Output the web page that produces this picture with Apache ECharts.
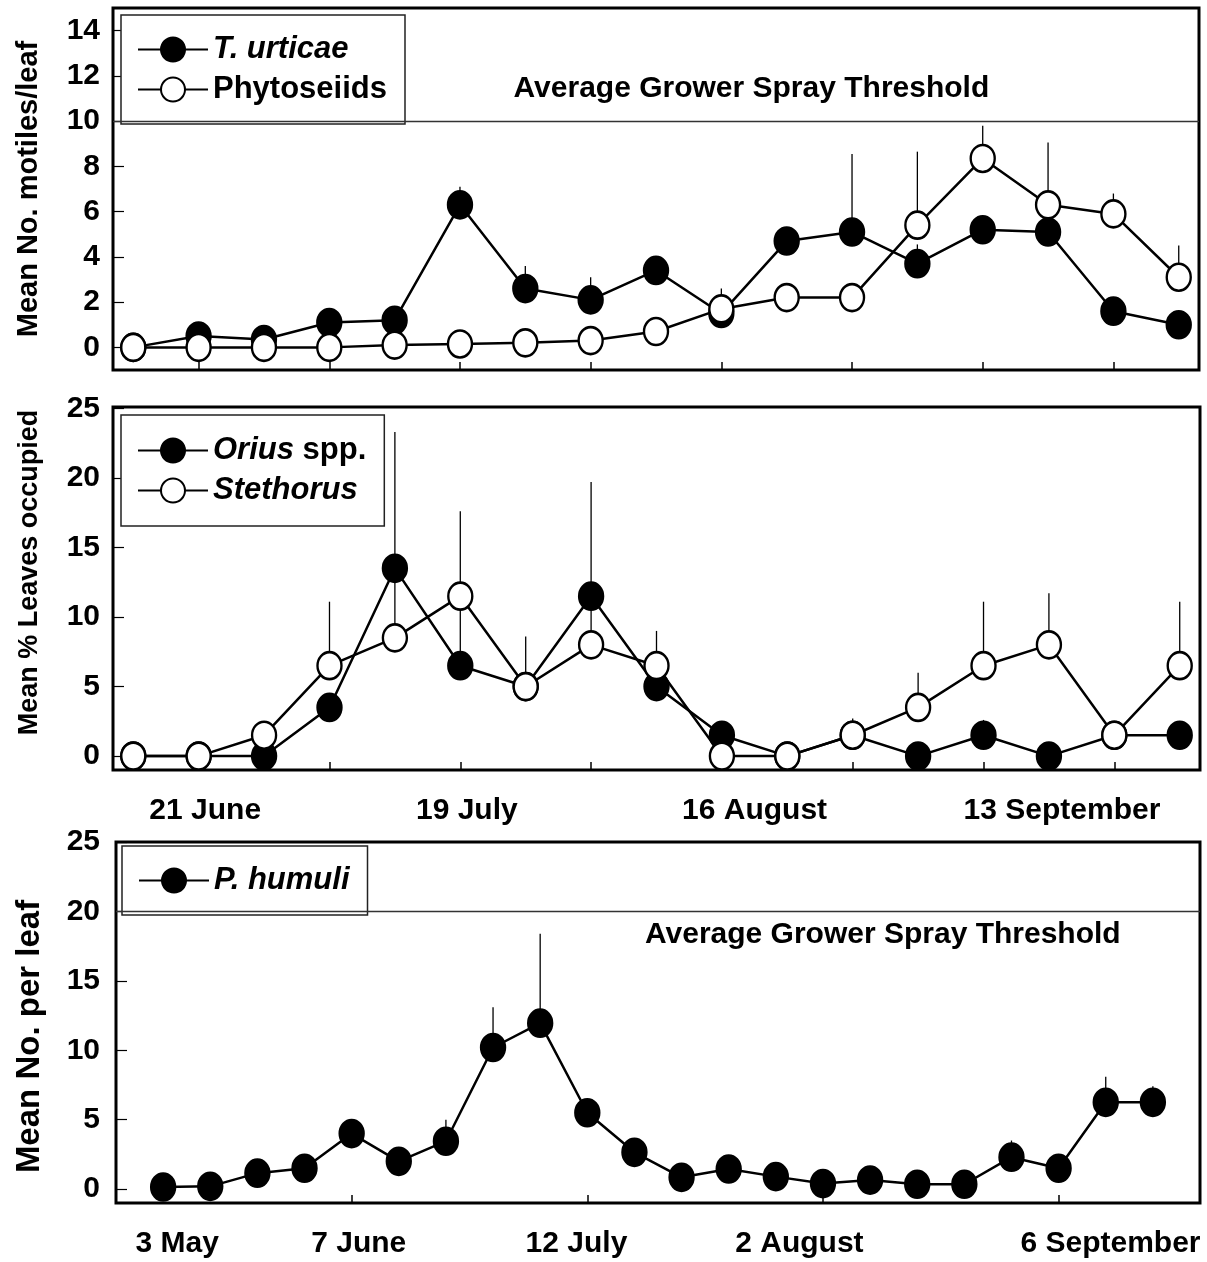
<!DOCTYPE html>
<html>
<head>
<meta charset="utf-8">
<script src="https://cdn.jsdelivr.net/npm/echarts@6/dist/echarts.min.js"></script>
<style>
  html, body { margin: 0; padding: 0; background: #fff; }
  #main { width: 1207px; height: 1262px; }
</style>
</head>
<body>
<div id="main"></div>
<script>
// 数据：每周采样
var tUrticae   = [0, 0.5, 0.35, 1.1, 1.2, 6.3, 2.6, 2.1, 3.4, 1.5, 4.7, 5.1, 3.7, 5.2, 5.1, 1.6, 1.0];
var tUrticaeSE = [0, 0, 0, 0, 0, 0.8, 1.0, 1.0, 0, 1.1, 0, 3.45, 0.85, 0, 0, 0, 0];
var phyto      = [0, 0, 0, 0, 0.1, 0.15, 0.2, 0.3, 0.7, 1.7, 2.2, 2.2, 5.4, 8.35, 6.3, 5.9, 3.1];
var phytoSE    = [0, 0, 0, 0, 0, 0, 0, 0, 0, 0, 0.55, 0, 3.25, 1.45, 2.75, 0.9, 1.4];

var orius      = [0, 0, 0, 3.5, 13.5, 6.5, 5.0, 11.5, 5.0, 1.5, 0, 1.5, 0, 1.5, 0, 1.5, 1.5];
var oriusSE    = [0, 0, 0, 0, 9.8, 5.5, 0, 8.2, 0, 1.0, 0, 0, 0, 1.1, 0, 0, 1.0];
var stethorus  = [0, 0, 1.5, 6.5, 8.5, 11.5, 5.0, 8.0, 6.5, 0, 0, 1.5, 3.5, 6.5, 8.0, 1.5, 6.5];
var stethSE    = [0, 0, 1.0, 4.6, 5.5, 6.1, 3.6, 4.0, 2.5, 0, 0, 1.2, 2.5, 4.6, 3.7, 0.8, 4.6];

var humuli     = [0.15, 0.2, 1.15, 1.5, 4.0, 2.0, 3.45, 10.2, 11.95, 5.5, 2.65, 0.85, 1.45, 0.9, 0.4, 0.65, 0.35, 0.35, 2.3, 1.5, 6.25, 6.25];
var humuliSE   = [0, 0, 0, 0, 0, 0, 1.55, 2.9, 6.45, 0, 0, 0, 0, 0, 0, 0, 0, 0, 1.2, 0, 1.85, 1.15];

// 坐标轴刻度与标签
var mitesTicks = [1, 3, 5, 7, 9, 11, 13, 15];
var mitesLabelPos = [1.1, 5.1, 9.5, 14.2];
var mitesLabels = ['21 June', '19 July', '16 August', '13 September'];
var aphidTicks = [4, 9, 14, 19];
var aphidLabelPos = [0.3, 4.15, 8.77, 13.5, 20.1];
var aphidLabels = ['3 May', '7 June', '12 July', '2 August', '6 September'];
var yTicks1 = [0, 2, 4, 6, 8, 10, 12, 14];
var yTicks25 = [0, 5, 10, 15, 20, 25];

var thresholdText = 'Average Grower Spray Threshold';

function pairs(arr) { return arr.map(function (v, i) { return [i, v]; }); }
function triples(arr, se) { return arr.map(function (v, i) { return [i, v, se[i]]; }); }

var FONT = 'Liberation Sans';

function errBars(arr, se, idx) {
  return {
    type: 'custom',
    xAxisIndex: idx, yAxisIndex: idx,
    z: 1,
    silent: true,
    encode: { x: 0, y: 1 },
    data: triples(arr, se),
    renderItem: function (params, api) {
      var x = api.value(0), y = api.value(1), e = api.value(2);
      if (!e) return;
      var p0 = api.coord([x, y]);
      var p1 = api.coord([x, y + e]);
      return {
        type: 'line',
        shape: { x1: p0[0], y1: p0[1], x2: p1[0], y2: p1[1] },
        style: { stroke: '#000', lineWidth: 1.3 }
      };
    }
  };
}

function lineSeries(name, arr, idx, filled) {
  return {
    name: name,
    type: 'line',
    xAxisIndex: idx, yAxisIndex: idx,
    data: pairs(arr),
    symbol: 'circle',
    symbolSize: [24, 27],
    showAllSymbol: true,
    z: 3,
    lineStyle: { color: '#000', width: 2.5 },
    itemStyle: { color: filled ? '#000' : '#fff', borderColor: '#000', borderWidth: 2.5, opacity: 1 },
    emphasis: { disabled: true }
  };
}

function xAxis(idx, min, max, ticks, labelPos, labels, showLabels) {
  return {
    type: 'value', gridIndex: idx, min: min, max: max,
    axisLine: { show: false, onZero: false },
    axisTick: { show: true, inside: true, length: 8, customValues: ticks, lineStyle: { color: '#000', width: 1.5 } },
    axisLabel: {
      show: showLabels, customValues: labelPos, margin: 26,
      fontSize: 30, fontWeight: 'bold', color: '#000', fontFamily: FONT,
      formatter: function (v) {
        var k = labelPos.indexOf(v);
        return k >= 0 ? labels[k] : '';
      }
    },
    splitLine: { show: false }
  };
}

function yAxis(idx, min, max, ticks, name, size, gap, pad, margin) {
  return {
    type: 'value', gridIndex: idx, min: min, max: max,
    name: name, nameLocation: 'middle', nameGap: gap, nameRotate: 90,
    nameTextStyle: { fontSize: size, fontWeight: 'bold', color: '#000', fontFamily: FONT, padding: pad },
    axisLine: { show: false, onZero: false },
    axisTick: { show: true, inside: true, length: 11, customValues: ticks, lineStyle: { color: '#000', width: 1.2 } },
    axisLabel: { customValues: ticks, margin: margin, fontSize: 30, fontWeight: 'bold', color: '#000', fontFamily: FONT },
    splitLine: { show: false }
  };
}

var legendBase = {
  orient: 'vertical',
  backgroundColor: '#fff',
  borderColor: '#222',
  borderWidth: 1.5,
  itemWidth: 70,
  itemHeight: 30,
  itemGap: 9,
  selectedMode: false,
  textStyle: {
    fontSize: 31, fontWeight: 'bold', color: '#000', fontFamily: FONT,
    rich: {
      i: { fontSize: 31, fontWeight: 'bold', fontStyle: 'italic', color: '#000', fontFamily: FONT },
      n: { fontSize: 31, fontWeight: 'bold', color: '#000', fontFamily: FONT }
    }
  }
};

function legend(names, left, top, pad, fmt) {
  return Object.assign({}, legendBase, { data: names, left: left, top: top, padding: pad, formatter: fmt });
}

var thresholdLine = function (y) {
  return {
    silent: true, symbol: 'none',
    lineStyle: { color: '#333', width: 1.3, type: 'solid' },
    label: { show: false },
    data: [{ yAxis: y }]
  };
};

var thresholdLabel = function (coord) {
  return {
    silent: true, symbol: 'circle', symbolSize: 0,
    label: {
      show: true, position: 'inside', formatter: thresholdText,
      fontSize: 30, fontWeight: 'bold', color: '#000', fontFamily: FONT
    },
    data: [{ coord: coord }]
  };
};

var chart = echarts.init(document.getElementById('main'));

var s0 = lineSeries('T. urticae', tUrticae, 0, true);
s0.markLine = thresholdLine(10);
s0.markPoint = thresholdLabel([9.46, 11.45]);
var s4 = lineSeries('P. humuli', humuli, 2, true);
s4.markLine = thresholdLine(20);
s4.markPoint = thresholdLabel([15.27, 18.3]);

var option = {
  animation: false,
  backgroundColor: '#fff',
  textStyle: { fontFamily: FONT },
  grid: [
    { left: 113, top: 8, width: 1086, height: 362, show: true, borderColor: '#000', borderWidth: 3, backgroundColor: 'transparent' },
    { left: 113, top: 407, width: 1087, height: 363, show: true, borderColor: '#000', borderWidth: 3, backgroundColor: 'transparent' },
    { left: 116, top: 842, width: 1084, height: 361, show: true, borderColor: '#000', borderWidth: 3, backgroundColor: 'transparent' }
  ],
  xAxis: [
    xAxis(0, -0.31, 16.31, mitesTicks, [], [], false),
    xAxis(1, -0.31, 16.31, mitesTicks, mitesLabelPos, mitesLabels, true),
    xAxis(2, -1, 22, aphidTicks, aphidLabelPos, aphidLabels, true)
  ],
  yAxis: [
    yAxis(0, -1, 15, yTicks1, 'Mean No. motiles/leaf', 29, 70, [0, 0, 0, 0], 13),
    yAxis(1, -1, 25.1, yTicks25, 'Mean % Leaves occupied', 27, 70, [0, 0, 0, 32], 13),
    yAxis(2, -1, 25, yTicks25, 'Mean No. per leaf', 33, 70, [0, 28, 0, 0], 16)
  ],
  legend: [
    legend(['T. urticae', 'Phytoseiids'], 121, 15, [19, 18, 19, 16], function (n) {
      return n === 'T. urticae' ? '{i|T. urticae}' : '{n|Phytoseiids}';
    }),
    legend(['Orius spp.', 'Stethorus'], 121, 415, [20, 18, 20, 16], function (n) {
      return n === 'Orius spp.' ? '{i|Orius} {n|spp.}' : '{i|Stethorus}';
    }),
    legend(['P. humuli'], 122, 846, [19, 18, 19, 16], function (n) {
      return '{i|' + n + '}';
    })
  ],
  series: [
    errBars(tUrticae, tUrticaeSE, 0),
    errBars(phyto, phytoSE, 0),
    s0,
    lineSeries('Phytoseiids', phyto, 0, false),
    errBars(orius, oriusSE, 1),
    errBars(stethorus, stethSE, 1),
    lineSeries('Orius spp.', orius, 1, true),
    lineSeries('Stethorus', stethorus, 1, false),
    errBars(humuli, humuliSE, 2),
    s4
  ]
};

chart.setOption(option);
</script>
</body>
</html>
